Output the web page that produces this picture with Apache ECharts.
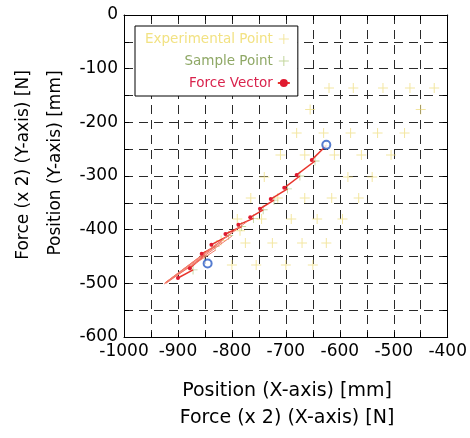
<!DOCTYPE html>
<html>
<head>
<meta charset="utf-8">
<script src="https://cdn.jsdelivr.net/npm/echarts@6/dist/echarts.min.js"></script>
<style>
html, body { margin: 0; padding: 0; background: #fff; }
#box1 { width: 470px; height: 438px; }
</style>
</head>
<body>
<div id="box1"></div>
<script>
// experimental points (yellow +), read row by row
var expX = [-620, -575, -520, -470, -425,
    -655, -450,
    -680, -630, -580, -530, -480,
    -710, -665, -610, -560, -505,
    -740, -585, -540,
    -765, -715, -665, -615, -565,
    -790, -745, -690, -642, -595,
    -775, -725, -670, -625,
    -800, -755, -700, -650,
    -820, -785];
var expY = [-136, -136, -136, -136, -136,
    -176, -176,
    -220, -220, -220, -220, -220,
    -261, -261, -261, -261, -261,
    -302, -302, -302,
    -341, -341, -341, -341, -341,
    -380, -380, -380, -380, -380,
    -425, -425, -425, -425,
    -466, -466, -466, -466,
    -420, -402];

// sample points (green +) = force vector origins
var sampleX = [-625, -646, -674, -697, -722, -742, -760, -782, -806, -831, -851, -872];
var sampleY = [-243, -272, -300, -324, -345, -363, -379, -394, -411, -431, -448, -475];
// force vector tips
var forceX = [-652, -680, -703, -728, -748, -766, -788, -812, -838, -856, -878, -900];
var forceY = [-270, -298, -322, -343, -361, -377, -391, -408, -428, -445, -472, -490];

// long vectors converging at the lower left
var fanX0 = [-772, -790, -800, -818, -830];
var fanY0 = [-385, -398, -412, -422, -438];
var fanX1 = [-925, -924, -922, -925, -920];
var fanY1 = [-500, -499, -500, -501, -497];

// start / end markers (blue circles)
var blueX = [-625, -845];
var blueY = [-242, -463];

var myChart = echarts.init(document.getElementById('box1'));
var plus = 'path://M4.5,0h1v4.5h4.5v1h-4.5v4.5h-1v-4.5h-4.5v-1h4.5z';
var font = 'DejaVu Sans';

function zip(xs, ys) {
    return xs.map(function (x, i) { return [x, ys[i]]; });
}
function every100(v) {
    return v % 100 === 0 ? v : '';
}

function axis(pos, min, max, showLabel) {
    return {
        type: 'value',
        position: pos,
        min: min,
        max: max,
        interval: 50,
        axisLine: { show: true, onZero: false, lineStyle: { color: '#000', width: 1 } },
        axisTick: { show: true, inside: true, length: 5, lineStyle: { color: '#000' } },
        axisLabel: {
            show: showLabel,
            formatter: every100,
            color: '#000',
            fontFamily: font,
            fontSize: 17,
            margin: 6
        },
        splitLine: {
            show: showLabel,
            lineStyle: { color: '#2a2a2a', width: 1, type: [9, 6] }
        }
    };
}

var series = [
    {
        name: 'Experimental Point',
        type: 'scatter',
        symbol: plus,
        symbolSize: 10,
        itemStyle: { color: '#f0e08a' },
        data: zip(expX, expY),
        z: 2
    },
    {
        name: 'Sample Point',
        type: 'scatter',
        symbol: plus,
        symbolSize: 9,
        itemStyle: { color: '#b4cc84' },
        data: zip(sampleX, sampleY),
        z: 3
    }
];

for (var i = 0; i < sampleX.length; i++) {
    series.push({
        name: 'Force Vector',
        type: 'line',
        symbol: 'circle',
        symbolSize: 4,
        itemStyle: { color: '#e01a30' },
        lineStyle: { color: '#e8342c', width: 1.5 },
        data: [
            { value: [sampleX[i], sampleY[i]], symbolSize: 0 },
            { value: [forceX[i], forceY[i]] }
        ],
        z: 4
    });
}
for (var k = 0; k < fanX0.length; k++) {
    series.push({
        name: 'Force Vector',
        type: 'line',
        symbol: 'none',
        lineStyle: { color: '#f27a68', width: 1 },
        data: [[fanX0[k], fanY0[k]], [fanX1[k], fanY1[k]]],
        z: 4
    });
}
series.push({
    name: 'ends',
    type: 'scatter',
    symbol: 'circle',
    symbolSize: 8,
    itemStyle: { color: '#fff', borderColor: '#2a5bc4', borderWidth: 2 },
    data: zip(blueX, blueY),
    z: 5
});

option = {
    backgroundColor: '#fff',
    animation: false,
    grid: { left: 124, right: 21, top: 15, bottom: 101 },
    xAxis: [axis('bottom', -1000, -400, true), axis('top', -1000, -400, false)],
    yAxis: [axis('left', -600, 0, true), axis('right', -600, 0, false)],
    legend: {
        data: [
            { name: 'Experimental Point', textStyle: { color: '#f2e283' } },
            { name: 'Sample Point', textStyle: { color: '#8fa866' } },
            { name: 'Force Vector', textStyle: { color: '#d9234d' } }
        ],
        orient: 'vertical',
        align: 'right',
        left: 135,
        top: 26,
        padding: [6, 7, 6, 10],
        itemGap: 8,
        itemWidth: 12,
        itemHeight: 10,
        backgroundColor: '#fff',
        borderColor: '#000',
        borderWidth: 1,
        borderRadius: 0,
        selectedMode: false,
        textStyle: { fontFamily: font, fontSize: 13.5, lineHeight: 14 }
    },
    graphic: [
        {
            type: 'text', x: 287, y: 391,
            style: { text: 'Position (X-axis) [mm]', fontFamily: font, fontSize: 19, fill: '#000', textAlign: 'center', textVerticalAlign: 'middle' }
        },
        {
            type: 'text', x: 287, y: 418,
            style: { text: 'Force (x 2) (X-axis) [N]', fontFamily: font, fontSize: 19, fill: '#000', textAlign: 'center', textVerticalAlign: 'middle' }
        },
        {
            type: 'text', x: 24, y: 165, rotation: Math.PI / 2,
            style: { text: 'Force (x 2) (Y-axis) [N]', fontFamily: font, fontSize: 17, fill: '#000', textAlign: 'center', textVerticalAlign: 'middle' }
        },
        {
            type: 'text', x: 56, y: 163, rotation: Math.PI / 2,
            style: { text: 'Position (Y-axis) [mm]', fontFamily: font, fontSize: 17, fill: '#000', textAlign: 'center', textVerticalAlign: 'middle' }
        }
    ],
    series: series
};
myChart.setOption(option);
</script>
</body>
</html>
